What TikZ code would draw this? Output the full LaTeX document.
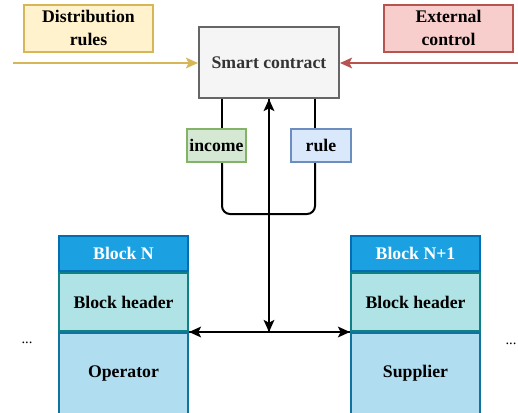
\documentclass[tikz,border=0pt]{standalone}
\usepackage{fontspec}
\setmainfont{Liberation Serif}
\usetikzlibrary{arrows.meta,backgrounds}

\definecolor{yfill}{HTML}{FFF2CC}\definecolor{ydraw}{HTML}{D6B656}
\definecolor{rfill}{HTML}{F8CECC}\definecolor{rdraw}{HTML}{B85450}
\definecolor{gfill}{HTML}{F5F5F5}\definecolor{gdraw}{HTML}{666666}
\definecolor{gtext}{HTML}{333333}
\definecolor{infill}{HTML}{D5E8D4}\definecolor{indraw}{HTML}{82B366}
\definecolor{bfill}{HTML}{DAE8FC}\definecolor{bdraw}{HTML}{6C8EBF}
\definecolor{tfill}{HTML}{1BA1E2}\definecolor{tdraw}{HTML}{006EAF}
\definecolor{hfill}{HTML}{B0E3E6}\definecolor{hdraw}{HTML}{0E8088}
\definecolor{ofill}{HTML}{B1DDF0}\definecolor{odraw}{HTML}{10739E}

\tikzset{
  box/.style={draw, line width=1.5pt, inner sep=0pt, align=center,
    font=\fontsize{13.3}{15}\selectfont\bfseries},
  conn/.style={line width=1.5pt, black},
  tip/.style={-{Stealth[length=9pt,width=8pt,inset=2pt]}},
  dots/.style={font=\fontsize{11}{13}\selectfont},
}

\begin{document}
\begin{tikzpicture}[x=0.75pt,y=-0.75pt]
\useasboundingbox (0,0) rectangle (518,412);

% top row
\node[box, fill=yfill, draw=ydraw, minimum width=129*0.75pt, minimum height=47*0.75pt] (dist) at (88.5,28) {Distribution\\[2pt]rules};
\node[box, fill=rfill, draw=rdraw, minimum width=129*0.75pt, minimum height=47*0.75pt] (ext) at (448.5,28) {External\\[2pt]control};
\node[box, fill=gfill, draw=gdraw, text=gtext, minimum width=140*0.75pt, minimum height=71*0.75pt] (sc) at (269,62.5) {Smart contract};

% value labels on the loop
\node[box, fill=infill, draw=indraw, minimum width=59*0.75pt, minimum height=33*0.75pt] (inc) at (216.5,145.5) {income};
\node[box, fill=bfill, draw=bdraw, minimum width=60*0.75pt, minimum height=33*0.75pt] (rule) at (321,145.5) {rule};

% block N
\node[box, fill=tfill, draw=tdraw, text=white, minimum width=129*0.75pt, minimum height=35*0.75pt] (bnt) at (123.5,253.5) {Block N};
\node[box, fill=hfill, draw=hdraw, minimum width=129*0.75pt, minimum height=58*0.75pt, anchor=north] (bnh) at (bnt.south) {Block header};
\node[box, fill=ofill, draw=odraw, minimum width=129*0.75pt, minimum height=81*0.75pt, anchor=north] (bno) at (bnh.south) {Operator};

% block N+1
\node[box, fill=tfill, draw=tdraw, text=white, minimum width=129*0.75pt, minimum height=35*0.75pt] (bmt) at (415.5,253.5) {Block N+1};
\node[box, fill=hfill, draw=hdraw, minimum width=129*0.75pt, minimum height=58*0.75pt, anchor=north] (bmh) at (bmt.south) {Block header};
\node[box, fill=ofill, draw=odraw, minimum width=129*0.75pt, minimum height=81*0.75pt, anchor=north] (bmo) at (bmh.south) {Supplier};

\node[dots] (dl) at (27,343) {...};
\node[dots] (dr) at (511,344) {...};

\coordinate (yin) at (13,63);
\coordinate (rin) at (518,63);
\coordinate (lx) at (222,0);
\coordinate (rx) at (315,0);
\coordinate (loopb) at (0,214);

\begin{pgfonlayer}{background}
  \fill[white] (0,0) rectangle (518,412);
  % loop behind the labels
  \draw[conn] (sc.south -| lx) -- (inc.north -| lx);
  \draw[conn, rounded corners=6pt] (inc.south -| lx) -- (lx |- loopb) -- (rx |- loopb) -- (rule.south -| rx);
  \draw[conn] (rule.north -| rx) -- (sc.south -| rx);
\end{pgfonlayer}

% inputs to the contract
\draw[line width=1.5pt, ydraw, tip] (yin) -- (sc.west |- yin);
\draw[line width=1.5pt, rdraw, tip] (rin) -- (sc.east |- rin);

% contract <-> chain
\draw[conn, tip] (sc.south |- bnh.south) -- (sc.south);
\draw[conn, tip] (sc.south) -- (sc.south |- bnh.south);
\draw[conn, tip] (bmh.south west) -- (bnh.south east);
\draw[conn, tip] (bnh.south east) -- (bmh.south west);
\end{tikzpicture}
\end{document}
